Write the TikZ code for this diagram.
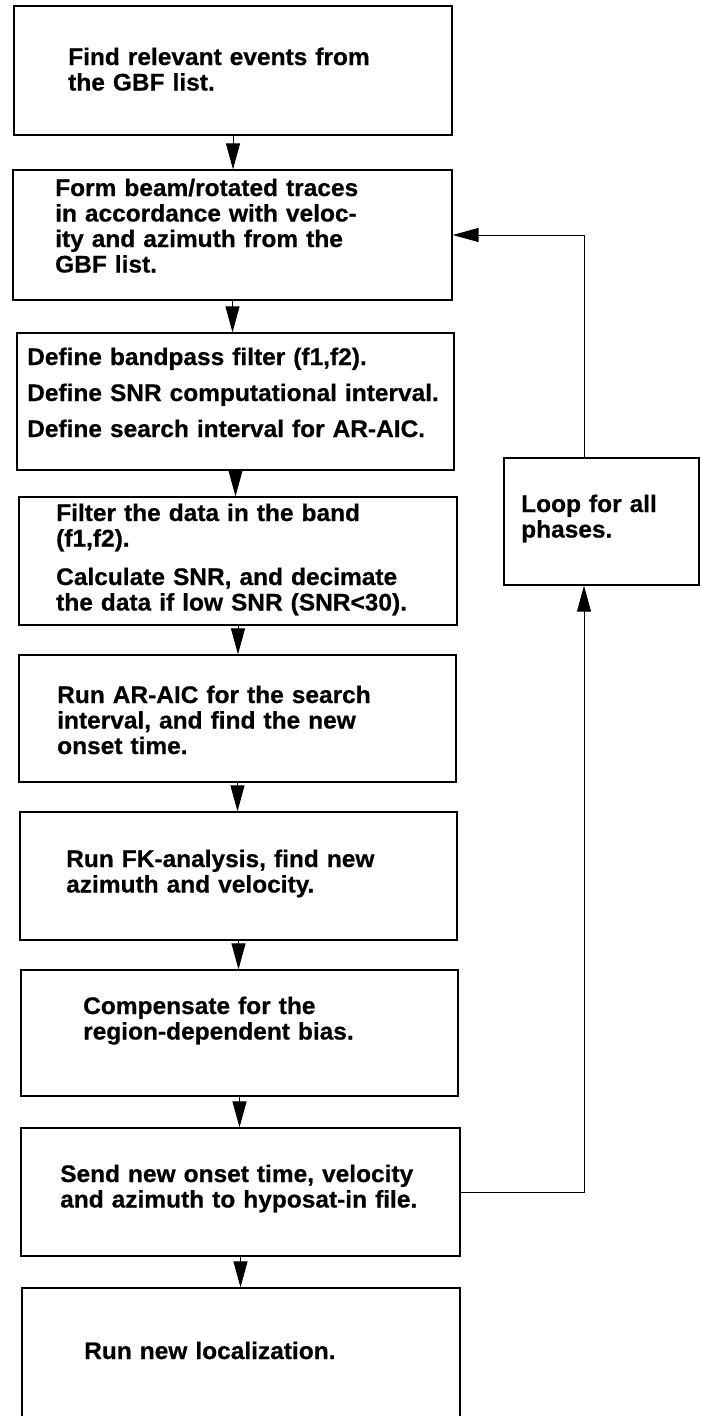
\documentclass[tikz,border=0pt]{standalone}
\usepackage{fontspec}
\setmainfont{Liberation Sans}[FakeStretch=1.02, BoldFeatures={FakeBold=0.6}]
\usetikzlibrary{arrows.meta}
\begin{document}
\begin{tikzpicture}[x=1pt,y=-1pt,
  box/.style={draw, line width=1.3pt, rectangle, inner sep=0pt},
  txt/.style={anchor=base west, inner sep=0pt, align=left, text width=#1,
    font=\fontsize{24}{25.5}\selectfont\bfseries},
  txt/.default=440pt,
  arr/.style={line width=1pt, -{Triangle[length=26pt,width=14pt]}}]
\useasboundingbox (0,0) rectangle (701,1416);

% boxes
\node[box, minimum width=438pt, minimum height=129pt] (b1) at (233,70.5) {};
\node[box, minimum width=439pt, minimum height=130pt] (b2) at (232.5,235) {};
\node[box, minimum width=437pt, minimum height=137pt] (b3) at (235.5,401.5) {};
\node[box, minimum width=438pt, minimum height=128pt] (b4) at (238,561) {};
\node[box, minimum width=437pt, minimum height=127pt] (b5) at (237.5,718.5) {};
\node[box, minimum width=437pt, minimum height=128pt] (b6) at (238.5,876) {};
\node[box, minimum width=437pt, minimum height=126pt] (b7) at (239.5,1033) {};
\node[box, minimum width=439pt, minimum height=128pt] (b8) at (240.5,1192) {};
\node[box, minimum width=438pt, minimum height=132pt] (b9) at (241,1354) {};
\node[box, minimum width=195pt, minimum height=127pt] (lp) at (601.5,521.5) {};

% texts
\node[txt] (t1) at (68,65) {Find relevant events from\\the GBF list.};
\node[txt] (t2) at (55,196) {Form beam/rotated traces\\in accordance with veloc-\\ity and azimuth from the\\GBF list.};
\node[txt] (t3) at (27,365) {Define bandpass filter (f1,f2).\\[10.5pt]Define SNR computational interval.\\[10.5pt]Define search interval for AR-AIC.};
\node[txt] (t4) at (56,521) {Filter the data in the band\\(f1,f2).\\[13pt]Calculate SNR, and decimate\\the data if low SNR (SNR<30).};
\node[txt] (t5) at (57,703) {Run AR-AIC for the search\\interval, and find the new\\onset time.};
\node[txt] (t6) at (66,867) {Run FK-analysis, find new\\azimuth and velocity.};
\node[txt] (t7) at (83,1014) {Compensate for the\\region-dependent bias.};
\node[txt] (t8) at (60,1182) {Send new onset time, velocity\\and azimuth to hyposat-in file.};
\node[txt] (t9) at (84,1359) {Run new localization.};
\node[txt=170pt] (tl) at (521,512) {Loop for all\\phases.};

% main flow
\draw[arr] (b1.south) -- (b1.south |- b2.north);
\draw[arr] (b2.south) -- (b2.south |- b3.north);
\draw[arr] (b3.south) -- (b3.south |- b4.north);
\draw[arr] (b4.south) -- (b4.south |- b5.north);
\draw[arr] (b5.south) -- (b5.south |- b6.north);
\draw[arr] (b6.south) -- (b6.south |- b7.north);
\draw[arr] (b7.south) -- (b7.south |- b8.north);
\draw[arr] (b8.south) -- (b8.south |- b9.north);

% loop
\coordinate (lx) at (584,0);
\draw[arr] (b8.east) -| (lx |- lp.south);
\draw[arr] (lx |- lp.north) |- (b2.east);
\end{tikzpicture}
\end{document}
